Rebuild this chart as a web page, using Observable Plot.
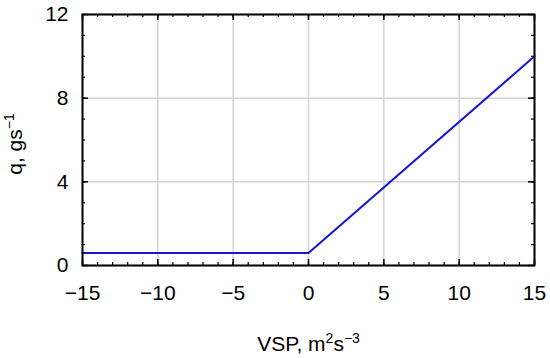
<!DOCTYPE html>
<html>
<head>
<meta charset="utf-8">
<script src="https://cdn.jsdelivr.net/npm/d3@7"></script>
<script src="https://cdn.jsdelivr.net/npm/@observablehq/plot@0.6"></script>
<style>
  html, body { margin: 0; padding: 0; background: #fff; }
  #chart svg { font-family: "Liberation Sans", Arial, sans-serif; }
</style>
</head>
<body>
<div id="chart"></div>
<script>
// Data
const vsp = [-15, 0, 15];
const q = [0.6, 0.6, 10];
const xTicks = [-15, -10, -5, 0, 5, 10, 15];
const yTicks = [0, 4, 8, 12];
const xMinor = d3.range(-15, 16, 1);
const yMinor = d3.range(0, 13, 1);
// label parts: [text, superscript?]
const xLabelParts = [["VSP, m", false], ["2", true], ["s", false], ["−3", true]];
const yLabelParts = [["q, gs", false], ["−1", true]];

const data = vsp.map((x, i) => ({x, y: q[i]}));
const plain = parts => parts.map(p => p[0]).join("");

const W = 550, H = 358;
const mL = 82, mR = 16, mT = 14, mB = 93;
const pw = W - mL - mR, ph = H - mT - mB;
const major = 6, minor = 3;
const FS = 21, LFS = 21;

const chart = Plot.plot({
  width: W,
  height: H,
  marginLeft: mL,
  marginRight: mR,
  marginTop: mT,
  marginBottom: mB,
  style: {fontSize: FS + "px", color: "black", background: "white"},
  x: {domain: [-15, 15]},
  y: {domain: [0, 12]},
  marks: [
    Plot.gridX(xTicks, {stroke: "#d4d4d4", strokeOpacity: 1, strokeWidth: 1.5}),
    Plot.gridY(yTicks, {stroke: "#d4d4d4", strokeOpacity: 1, strokeWidth: 1.5}),
    Plot.tickX(xMinor, {x: d => d, insetTop: ph - minor, stroke: "black", strokeWidth: 1.2}),
    Plot.tickX(xMinor, {x: d => d, insetBottom: ph - minor, stroke: "black", strokeWidth: 1.2}),
    Plot.tickX(xTicks, {x: d => d, insetTop: ph - major, stroke: "black", strokeWidth: 1.5}),
    Plot.tickX(xTicks, {x: d => d, insetBottom: ph - major, stroke: "black", strokeWidth: 1.5}),
    Plot.tickY(yMinor, {y: d => d, insetRight: pw - minor, stroke: "black", strokeWidth: 1.2}),
    Plot.tickY(yMinor, {y: d => d, insetLeft: pw - minor, stroke: "black", strokeWidth: 1.2}),
    Plot.tickY(yTicks, {y: d => d, insetRight: pw - major, stroke: "black", strokeWidth: 1.5}),
    Plot.tickY(yTicks, {y: d => d, insetLeft: pw - major, stroke: "black", strokeWidth: 1.5}),
    Plot.line(data, {x: "x", y: "y", stroke: "#1616d8", strokeWidth: 2}),
    Plot.frame({stroke: "black", strokeWidth: 2}),
    Plot.axisX(xTicks, {tickSize: 0, tickPadding: 20, fontSize: FS, label: plain(xLabelParts), labelAnchor: "center", labelOffset: 85, labelArrow: "none", fill: "black"}),
    Plot.axisY(yTicks, {tickSize: 0, tickPadding: 14, fontSize: FS, label: plain(yLabelParts), labelAnchor: "center", labelOffset: 75, labelArrow: "none", fill: "black"})
  ]
});

// turn the axis labels into text with real superscripts
function superscript(sel, parts, shift) {
  const t = chart.querySelector(sel);
  if (!t) return;
  t.setAttribute("font-size", LFS);
  t.textContent = "";
  const ns = "http://www.w3.org/2000/svg";
  let raised = false, first = true;
  for (const [s, sup] of parts) {
    const ts = document.createElementNS(ns, "tspan");
    ts.textContent = s;
    if (first && shift) ts.setAttribute("dx", shift);
    first = false;
    if (sup && !raised) { ts.setAttribute("dy", "-8"); raised = true; }
    else if (!sup && raised) { ts.setAttribute("dy", "8"); raised = false; }
    if (sup) ts.setAttribute("font-size", 14);
    t.appendChild(ts);
  }
}
superscript('g[aria-label="x-axis label"] text', xLabelParts, 0);
superscript('g[aria-label="y-axis label"] text', yLabelParts, -4);

document.getElementById("chart").appendChild(chart);
</script>
</body>
</html>
